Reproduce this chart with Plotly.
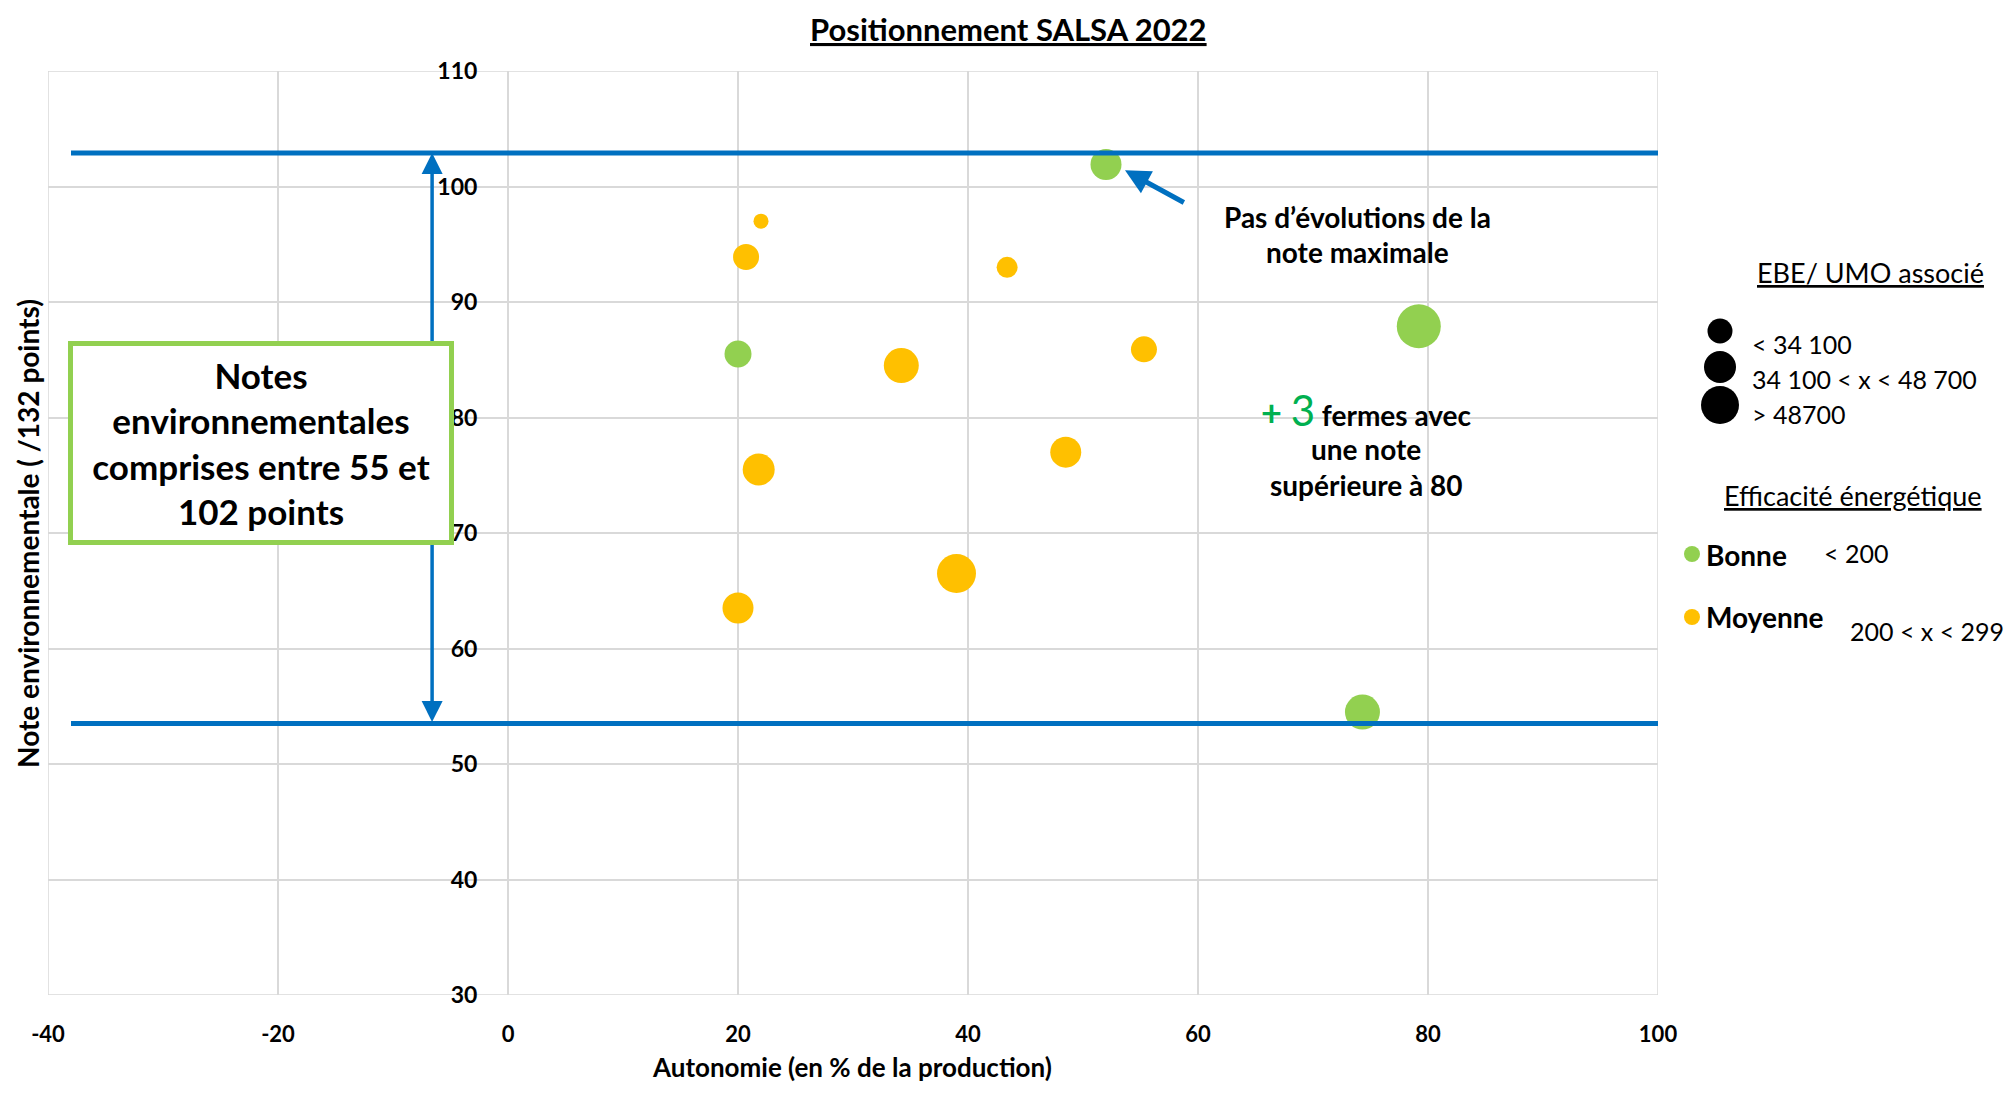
import plotly.graph_objects as go

# données
autonomie = [52.0, 22.0, 20.7, 43.4, 20.0, 34.2, 55.3, 79.2, 21.8, 48.5, 39.0, 20.0, 74.3]
note_env = [101.9, 97.0, 93.9, 93.0, 85.5, 84.5, 85.9, 87.9, 75.5, 77.0, 66.5, 63.5, 54.5]
ebe_umo = [39700, 9300, 27900, 18200, 30100, 50600, 27900, 80000, 42300, 39700, 62800, 39700, 50600]
efficacite = ["Bonne", "Moyenne", "Moyenne", "Moyenne", "Bonne", "Moyenne", "Moyenne",
              "Bonne", "Moyenne", "Moyenne", "Moyenne", "Moyenne", "Bonne"]

note_min = 53.5
note_max = 102.9
debut_lignes = -38
x_fleche = -6.6

x_ticks = [-40, -20, 0, 20, 40, 60, 80, 100]
x_labels = ["-40", "-20", "0", "20", "40", "60", "80", "100"]
y_ticks = [30, 40, 50, 60, 70, 80, 90, 100, 110]

VERT = "#92D050"
JAUNE = "#FFC000"
BLEU = "#0070C0"
GRIS = "#D9D9D9"
POLICE = "Lato, 'Open Sans', sans-serif"

# la page ajoute 8 px de marge autour du graphique
OFF = 8
W, H = 2013 - 2 * OFF, 1093 - 2 * OFF
# zone de tracé dans la page : x 48 -> 1658, y 71 -> 995
PX0, PX1, PY0, PY1 = 48, 1658, 71, 995
L, T = PX0 - OFF, PY0 - OFF
R, B = W - (PX1 - OFF), H - (PY1 - OFF)


def px(x):
    return (x - PX0) / (PX1 - PX0)


def py(y):
    return (PY1 - y) / (PY1 - PY0)


fig = go.Figure()

# bulles
taille = [44 * (v / max(ebe_umo)) ** 0.5 for v in ebe_umo]
for cat, col in [("Bonne", VERT), ("Moyenne", JAUNE)]:
    idx = [i for i, e in enumerate(efficacite) if e == cat]
    fig.add_trace(go.Scatter(
        x=[autonomie[i] for i in idx],
        y=[note_env[i] for i in idx],
        mode="markers",
        marker=dict(size=[taille[i] for i in idx], sizemode="diameter", color=col, line_width=0, opacity=1),
        name=cat, showlegend=False, hoverinfo="x+y"))

# lignes note min / max
for n in [note_max, note_min]:
    fig.add_trace(go.Scatter(x=[debut_lignes, x_ticks[-1]], y=[n, n], mode="lines",
                             line=dict(color=BLEU, width=5), showlegend=False, hoverinfo="skip"))

annotations = []
# double flèche
annotations.append(dict(x=x_fleche, y=note_max, ax=x_fleche, ay=note_min, xref="x", yref="y",
                        axref="x", ayref="y", text="", showarrow=True, arrowside="end+start",
                        arrowhead=2, arrowsize=1.2, arrowwidth=3.5, arrowcolor=BLEU))
# flèche vers la note maximale
annotations.append(dict(x=53.65, y=101.4, ax=58.9, ay=98.55, xref="x", yref="y",
                        axref="x", ayref="y", text="", showarrow=True,
                        arrowhead=2, arrowsize=1.0, arrowwidth=5, arrowcolor=BLEU))
# encadré vert
annotations.append(dict(x=px(261), y=py(443), xref="paper", yref="paper", xanchor="center", yanchor="middle",
                        text="Notes<br>environnementales<br>comprises entre 55 et<br>102 points",
                        showarrow=False, width=376, height=194, bgcolor="white",
                        bordercolor=VERT, borderwidth=5, borderpad=0,
                        font=dict(family=POLICE, size=35, color="black", weight="bold")))


def texte(t, cx, cy, size, bold=False, xanchor="center", color="black", angle=0):
    annotations.append(dict(x=px(cx), y=py(cy), xref="paper", yref="paper",
                            text=t, showarrow=False,
                            xanchor=xanchor, yanchor="middle", textangle=angle,
                            font=dict(family=POLICE, size=size, color=color,
                                      weight="bold" if bold else "normal")))


texte("Pas d’évolutions de la", 1357, 217, 28, bold=True)
texte("note maximale", 1357, 252, 28, bold=True)
texte("<span style='color:#00B050;font-size:36px'>+ </span>"
      "<span style='color:#00B050;font-size:42px;font-weight:normal'>3</span> fermes avec",
      1366, 410, 28, bold=True)
texte("une note", 1366, 449, 28, bold=True)
texte("supérieure à 80", 1366, 485, 28, bold=True)

# titres des axes
texte("Autonomie (en % de la production)", 852, 1067, 26, bold=True)
texte("Note environnementale ( /132 points)", 28, 534, 28, bold=True, angle=-90)

# légende
texte("<u>EBE/ UMO associé</u>", 1870, 272, 27)
texte("< 34 100", 1750, 344, 25, xanchor="left")
texte("34 100 < x < 48 700", 1750, 379, 25, xanchor="left")
texte("> 48700", 1750, 414, 25, xanchor="left")
texte("<u>Efficacité énergétique</u>", 1853, 495, 27)
texte("Bonne", 1704, 555, 28, bold=True, xanchor="left")
texte("< 200", 1822, 553, 25, xanchor="left")
texte("Moyenne", 1704, 617, 28, bold=True, xanchor="left")
texte("200 < x < 299", 1848, 631, 25, xanchor="left")

# titre
texte("<u>Positionnement SALSA 2022</u>", 1008, 29, 31, bold=True)


def cercle(cx, cy, d, col):
    return dict(type="circle", xref="paper", yref="paper", xsizemode="pixel", ysizemode="pixel",
                xanchor=px(cx), yanchor=py(cy), x0=-d / 2, x1=d / 2, y0=-d / 2, y1=d / 2,
                fillcolor=col, line_width=0, layer="above")


shapes = [
    # cadre
    dict(type="rect", xref="x", yref="y", x0=x_ticks[0], x1=x_ticks[-1], y0=y_ticks[0], y1=y_ticks[-1],
         line=dict(color=GRIS, width=1.5), layer="below"),
    # fonds blancs des zones de texte
    dict(type="rect", xref="x", yref="y", x0=58.7, x1=88.9, y0=90.9, y1=99.8,
         fillcolor="white", line_width=0, layer="below"),
    dict(type="rect", xref="x", yref="y", x0=62.2, x1=87.2, y0=72.4, y1=84.3,
         fillcolor="white", line_width=0, layer="below"),
    cercle(1720, 331, 25, "black"),
    cercle(1720, 367, 32, "black"),
    cercle(1720, 405, 38, "black"),
    cercle(1692, 554, 16, VERT),
    cercle(1692, 617, 16, JAUNE),
]

fig.update_layout(
    width=W, height=H,
    margin=dict(l=L, r=R, t=T, b=B, autoexpand=False),
    paper_bgcolor="white", plot_bgcolor="white",
    font=dict(family=POLICE, color="black"),
    xaxis=dict(range=[x_ticks[0], x_ticks[-1]], tickvals=x_ticks, ticktext=x_labels,
               showgrid=True, gridcolor=GRIS,
               gridwidth=1.5, zeroline=False, showline=False, ticks="outside", ticklen=20,
               tickcolor="rgba(0,0,0,0)", tickfont=dict(size=22, family=POLICE, weight="bold"),
               automargin=False),
    yaxis=dict(range=[y_ticks[0], y_ticks[-1]], tickvals=y_ticks, showgrid=True, gridcolor=GRIS,
               gridwidth=1.5, zeroline=False, showline=False, anchor="free",
               position=(0 - x_ticks[0]) / (x_ticks[-1] - x_ticks[0]),
               ticks="outside", ticklen=26, tickcolor="rgba(0,0,0,0)",
               tickfont=dict(size=23, family=POLICE, weight="bold"),
               automargin=False),
    annotations=annotations,
    shapes=shapes,
)

fig.write_html("out.html")
